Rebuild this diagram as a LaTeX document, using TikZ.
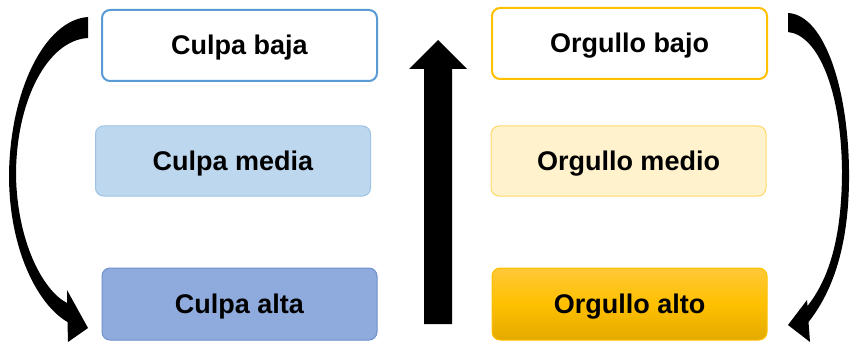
\documentclass[tikz,border=0pt]{standalone}
\usepackage{fontspec}
\setmainfont{Liberation Sans}
\definecolor{blueedge}{HTML}{5B9BD5}
\definecolor{bluelight}{HTML}{BDD7EE}
\definecolor{bluelightedge}{HTML}{9DC3E6}
\definecolor{bluemid}{HTML}{8FAADC}
\definecolor{bluemidedge}{HTML}{6F8FCF}
\definecolor{goldedge}{HTML}{FFC000}
\definecolor{goldlight}{HTML}{FFF2CC}
\definecolor{goldlightedge}{HTML}{FFD966}
\definecolor{goldtop}{HTML}{FFC839}
\definecolor{goldmid}{HTML}{FFC000}
\definecolor{goldbottom}{HTML}{E3AA00}
\begin{document}
\begin{tikzpicture}[x=1pt,y=-1pt,
  level/.style={rectangle,rounded corners=8pt,inner sep=0pt,
    minimum width=275pt,minimum height=71pt,
    text height=22pt,text depth=4pt,
    font=\fontsize{27}{30}\selectfont\bfseries},
  blockarrow/.style={fill=black,draw=none}]
\useasboundingbox (0,0) rectangle (851,342);

% guilt levels
\node[level,draw=blueedge,line width=2pt,fill=white] (cb) at (239.5,45.5) {Culpa baja};
\node[level,draw=bluelightedge,line width=1pt,fill=bluelight,minimum height=70pt] (cm) at (233,161) {Culpa media};
\node[level,draw=bluemidedge,line width=1pt,fill=bluemid,minimum height=72pt] (ca) at (239.5,304) {Culpa alta};

% pride levels
\node[level,draw=goldedge,line width=2pt,fill=white] (ob) at (629.5,43.5) {Orgullo bajo};
\node[level,draw=goldlightedge,line width=1pt,fill=goldlight,minimum height=70pt] (om) at (628.5,161) {Orgullo medio};
\node[level,draw=goldedge,line width=1pt,top color=goldtop,bottom color=goldbottom,middle color=goldmid,minimum height=72pt] (oa) at (629.5,304) {Orgullo alto};

% central upward block arrow
\fill[blockarrow] (424,324) -- (424,69) -- (409,69) -- (438,40) -- (467,69)
  -- (452,69) -- (452,324) -- cycle;

% curved block arrow on the left, from low guilt down to high guilt
\fill[blockarrow] (88,17) .. controls (45,20) and (10,90) .. (9,175)
  .. controls (9,250) and (38,305) .. (67.5,322)
  -- (68,342) -- (88,328) -- (67,290) -- (67,303)
  .. controls (42,290) and (17,240) .. (16,175)
  .. controls (16,100) and (48,40) .. (88,38) -- cycle;

% curved block arrow on the right, from low pride down to high pride
\fill[blockarrow] (788,13) .. controls (825,15) and (848,90) .. (849,170)
  .. controls (850,250) and (830,295) .. (808.5,322)
  -- (810,342) -- (788,325) -- (807,300) -- (807.5,306)
  .. controls (828,280) and (842,240) .. (842,170)
  .. controls (841,90) and (818,35) .. (788,32) -- cycle;
\end{tikzpicture}
\end{document}
